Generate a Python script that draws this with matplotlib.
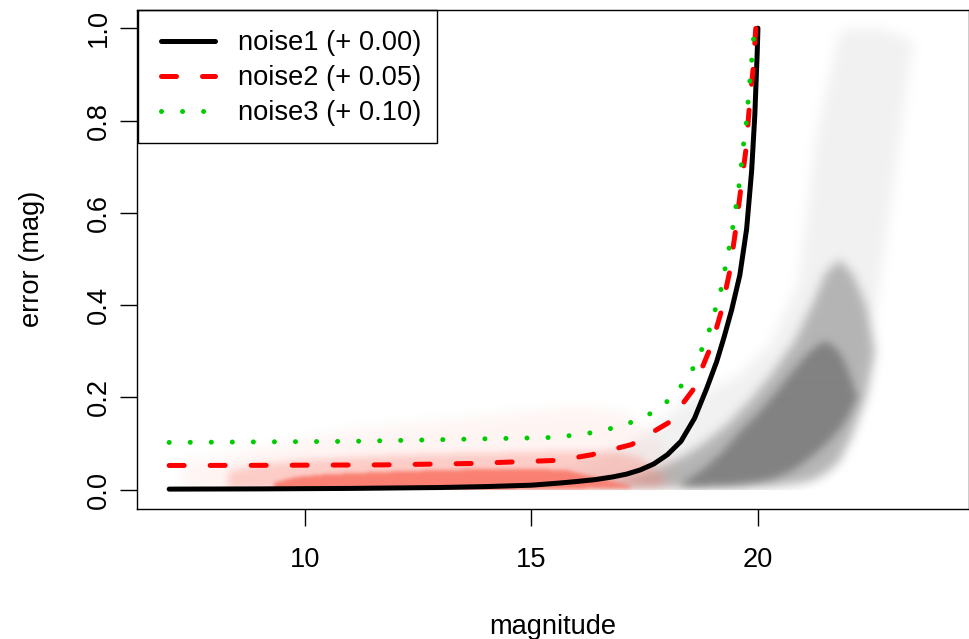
import matplotlib
matplotlib.use("Agg")
import matplotlib.pyplot as plt
from matplotlib.patches import Rectangle
from matplotlib.colors import to_rgb
import numpy as np

plt.rcParams['font.family'] = ['Liberation Sans', 'DejaVu Sans']

# ---------------- data ----------------
# model curves: error vs magnitude
noise1_x = [7.0, 9.0, 11.0, 13.0, 14.0, 15.0, 15.6, 16.0, 16.4, 16.8, 17.1, 17.4, 17.7,
            18.0, 18.3, 18.6, 18.87, 19.09, 19.25, 19.42, 19.6, 19.75, 19.86, 19.93, 19.985, 20.0]
noise1_y = [0.0015, 0.002, 0.003, 0.005, 0.007, 0.010, 0.0145, 0.018, 0.022, 0.028, 0.034, 0.043, 0.056,
            0.076, 0.105, 0.155, 0.22, 0.278, 0.33, 0.39, 0.465, 0.565, 0.69, 0.81, 0.95, 1.0]

noise2_x = [7.0, 9.0, 11.74, 13.65, 14.5, 15.63, 16.33, 17.21, 18.02, 18.57, 18.98, 19.18, 19.37,
            19.51, 19.62, 19.74, 19.81, 19.90, 19.97]
noise2_y = [0.0527, 0.053, 0.054, 0.057, 0.060, 0.064, 0.076, 0.098, 0.145, 0.217, 0.315, 0.383, 0.470,
            0.564, 0.651, 0.741, 0.831, 0.918, 1.03]

noise3_x = [7.0, 11.0, 15.34, 15.81, 16.28, 16.72, 17.17, 17.59, 17.97, 18.29, 18.55, 18.75, 18.92,
            19.05, 19.18, 19.27, 19.36, 19.44, 19.51, 19.58, 19.63, 19.68, 19.74, 19.78, 19.82, 19.86,
            19.90, 19.94]
noise3_y = [0.1026, 0.105, 0.113, 0.117, 0.123, 0.132, 0.145, 0.163, 0.189, 0.223, 0.260, 0.302, 0.344,
            0.388, 0.432, 0.477, 0.522, 0.566, 0.611, 0.657, 0.701, 0.747, 0.792, 0.838, 0.884, 0.928,
            0.975, 1.02]

labels = ["noise1 (+ 0.00)", "noise2 (+ 0.05)", "noise3 (+ 0.10)"]

# observed point clouds, summarised as density envelopes (lower / upper edge per magnitude)
grey_sparse_x = [15.0, 16.0, 17.0, 17.5, 18.0, 18.5, 19.0, 19.6, 20.3, 20.9, 21.3, 21.8, 22.0, 22.4, 22.7, 23.06, 23.3, 23.45]
grey_sparse_lo = [0.002, 0.002, 0.002, 0.002, 0.002, 0.002, 0.002, 0.002, 0.004, 0.01, 0.04, 0.08, 0.12, 0.27, 0.45, 0.70, 0.88, 0.97]
grey_sparse_hi = [0.02, 0.05, 0.09, 0.12, 0.16, 0.20, 0.22, 0.25, 0.32, 0.45, 0.77, 0.99, 1.0, 1.0, 1.0, 0.99, 0.98, 0.97]

grey_mid_x = [16.3, 16.8, 17.3, 17.8, 18.3, 18.8, 19.3, 19.8, 20.3, 20.8, 21.2, 21.5, 21.8, 22.1, 22.4, 22.6]
grey_mid_lo = [0.005, 0.005, 0.005, 0.005, 0.005, 0.006, 0.006, 0.007, 0.009, 0.014, 0.020, 0.035, 0.06, 0.12, 0.20, 0.30]
grey_mid_hi = [0.010, 0.018, 0.030, 0.048, 0.070, 0.10, 0.14, 0.19, 0.25, 0.32, 0.40, 0.47, 0.50, 0.47, 0.40, 0.30]

grey_core_x = [18.3, 18.8, 19.2, 19.6, 20.0, 20.4, 20.8, 21.1, 21.4, 21.6, 21.8, 22.0, 22.2]
grey_core_lo = [0.008, 0.009, 0.010, 0.013, 0.018, 0.026, 0.045, 0.065, 0.09, 0.11, 0.13, 0.16, 0.20]
grey_core_hi = [0.012, 0.045, 0.080, 0.125, 0.165, 0.210, 0.260, 0.295, 0.32, 0.32, 0.30, 0.26, 0.20]

salmon_sparse_x = [7.3, 8.0, 9.0, 10.0, 11.0, 12.0, 13.0, 14.0, 15.0, 16.0, 17.0, 17.6, 18.2]
salmon_sparse_lo = [0.0] * 13
salmon_sparse_hi = [0.06, 0.07, 0.09, 0.11, 0.13, 0.14, 0.15, 0.16, 0.17, 0.18, 0.17, 0.13, 0.06]

salmon_mid_x = [8.3, 9.0, 10.0, 11.0, 12.0, 13.0, 14.0, 15.0, 16.0, 16.8, 17.4, 17.9]
salmon_mid_lo = [0.0, 0.0, 0.0, 0.0, 0.0, 0.0, 0.0, 0.0, 0.002, 0.004, 0.006, 0.008]
salmon_mid_hi = [0.040, 0.055, 0.065, 0.070, 0.075, 0.078, 0.080, 0.082, 0.085, 0.085, 0.070, 0.030]

salmon_core_x = [9.3, 9.8, 10.5, 11.0, 12.0, 13.0, 14.0, 15.0, 15.8, 16.3, 16.8, 17.2]
salmon_core_lo = [0.0, 0.0, 0.0, 0.0, 0.0, 0.0, 0.0, 0.001, 0.002, 0.003, 0.004, 0.005]
salmon_core_hi = [0.015, 0.028, 0.034, 0.036, 0.040, 0.043, 0.045, 0.046, 0.042, 0.030, 0.018, 0.008]

xticks = [10, 15, 20]
yticks = [0.0, 0.2, 0.4, 0.6, 0.8, 1.0]

# ---------------- figure ----------------
W, H = 969, 639
fig = plt.figure(figsize=(W / 100, H / 100), dpi=100)
ax = fig.add_axes([137 / W, 1 - 508.5 / H, 1 - 137 / W, (508.5 - 9.5) / H])

XLIM = (6.29, 24.66)
YLIM = (-0.0405, 1.0405)

# density raster built from the envelopes
NX, NY = 832, 500
gx = np.linspace(XLIM[0], XLIM[1], NX)
gy = np.linspace(YLIM[0], YLIM[1], NY)


def blur(a, sigma):
    r = int(3 * sigma) + 1
    k = np.exp(-0.5 * (np.arange(-r, r + 1) / sigma) ** 2)
    k /= k.sum()
    a = np.apply_along_axis(lambda v: np.convolve(v, k, mode='same'), 0, a)
    a = np.apply_along_axis(lambda v: np.convolve(v, k, mode='same'), 1, a)
    return a


def layer(xs, lo, hi, sigma):
    lo_g = np.interp(gx, xs, lo)
    hi_g = np.interp(gx, xs, hi)
    inside = (gx >= xs[0]) & (gx <= xs[-1])
    m = (gy[:, None] >= lo_g[None, :]) & (gy[:, None] <= hi_g[None, :]) & inside[None, :]
    m = blur(m.astype(float), sigma)
    m[gy < -0.001, :] = 0
    return np.clip(m, 0, 1)


def cloud_image(layers, color):
    trans = np.ones((NY, NX))
    for (xs, lo, hi, alpha, sigma) in layers:
        trans *= 1 - alpha * layer(xs, lo, hi, sigma)
    img = np.zeros((NY, NX, 4))
    img[..., :3] = to_rgb(color)
    img[..., 3] = 1 - trans
    return img


grey_img = cloud_image([
    (grey_sparse_x, grey_sparse_lo, grey_sparse_hi, 0.11, 6),
    (grey_mid_x, grey_mid_lo, grey_mid_hi, 0.55, 5),
    (grey_core_x, grey_core_lo, grey_core_hi, 1.0, 4),
], '#828282')
salmon_img = cloud_image([
    (salmon_sparse_x, salmon_sparse_lo, salmon_sparse_hi, 0.08, 6),
    (salmon_mid_x, salmon_mid_lo, salmon_mid_hi, 0.35, 4),
    (salmon_core_x, salmon_core_lo, salmon_core_hi, 1.0, 2.0),
], '#FA8072')

ext = (XLIM[0], XLIM[1], YLIM[0], YLIM[1])
ax.imshow(grey_img, origin='lower', extent=ext, aspect='auto', interpolation='bilinear', zorder=1)
ax.imshow(salmon_img, origin='lower', extent=ext, aspect='auto', interpolation='bilinear', zorder=1.1)

lw = 3.6
l1, = ax.plot(noise1_x, noise1_y, color='black', lw=lw, solid_capstyle='round', label=labels[0], zorder=3)
l2, = ax.plot(noise2_x, noise2_y, color='#FF0000', lw=lw, dash_capstyle='round',
              dashes=(3.0, 5.2), label=labels[1], zorder=3)
l3, = ax.plot(noise3_x, noise3_y, color='#00CD00', lw=lw, dash_capstyle='round',
              dashes=(0.01, 4.2), label=labels[2], zorder=3)

ax.set_xlim(*XLIM)
ax.set_ylim(*YLIM)
ax.set_xticks(xticks)
ax.set_xticklabels([str(v) for v in xticks])
ax.set_yticks(yticks)
ax.set_yticklabels([f"{v:.1f}" for v in yticks])

fs = 19.6
ax.tick_params(axis='both', direction='out', length=12, width=1.0, color='black',
               labelsize=fs, labelcolor='black')
ax.tick_params(axis='x', pad=16.0)
ax.tick_params(axis='y', pad=6.0)
for t in ax.get_yticklabels():
    t.set_rotation(90)
    t.set_va('center')
for s in ax.spines.values():
    s.set_linewidth(1.0)
    s.set_color('black')
    s.set_zorder(6)

fig.text(553 / W, 1 - 627 / H, 'magnitude', ha='center', va='center', fontsize=fs)
fig.text(32 / W, 1 - 259 / H, 'error (mag)', ha='center', va='center', fontsize=fs, rotation=90)

# legend: frame box drawn at the plot's top-left corner, entries placed inside it
frame = Rectangle((138 / W, 1 - 143 / H), (437 - 138) / W, (143 - 10) / H,
                  transform=fig.transFigure, facecolor='white', edgecolor='black',
                  lw=1.0, zorder=4.5, clip_on=False)
ax.add_patch(frame)
fs_px = fs * 100 / 72
leg = ax.legend(handles=[l1, l2, l3], loc='upper left', bbox_to_anchor=(161 / W, 1 - 30.5 / H),
                bbox_transform=fig.transFigure, fontsize=fs, frameon=False,
                borderaxespad=0, borderpad=0, handlelength=54 / fs_px,
                handletextpad=23 / fs_px, labelspacing=0.33)
leg.set_zorder(5)

fig.savefig('out.png', dpi=100)
